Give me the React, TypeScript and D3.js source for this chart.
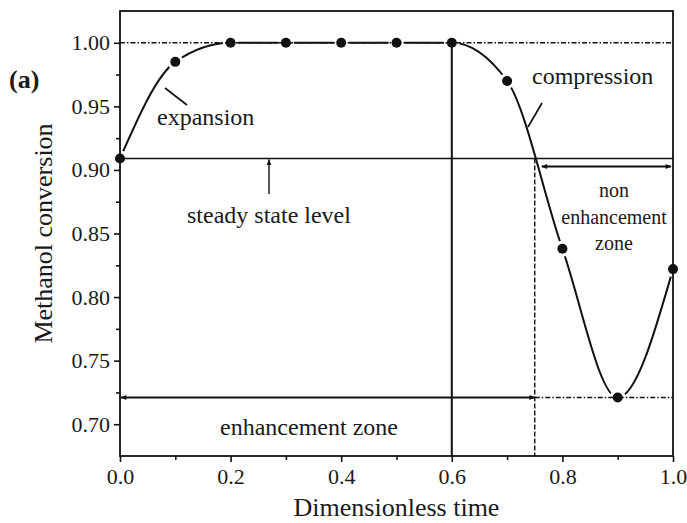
import * as React from 'react';
import {useEffect, useRef} from 'react';
import * as d3 from 'd3';

// dimensionless time of the samples and the methanol conversion read at each one
const timePoints = [0.0, 0.1, 0.2, 0.3, 0.4, 0.5, 0.6, 0.7, 0.8, 0.9, 1.0];
const conversion = [0.909, 0.985, 1.0, 1.0, 1.0, 1.0, 1.0, 0.97, 0.838, 0.721, 0.822];

const xTicks = [0.0, 0.2, 0.4, 0.6, 0.8, 1.0];
const xMinorTicks = [0.1, 0.3, 0.5, 0.7, 0.9];
const yTicks = [0.70, 0.75, 0.80, 0.85, 0.90, 0.95, 1.00];
const yMinorTicks = [0.725, 0.775, 0.825, 0.875, 0.925, 0.975];

const fullLevel = 1.0;
const steadyLevel = 0.909;
const minLevel = 0.721;
const switchTime = 0.6;
const crossTime = 0.75;

const W = 687;
const H = 523;
const FONT = '"Liberation Serif", "Times New Roman", serif';

export default function App() {
    const ref = useRef<SVGSVGElement>(null);

    useEffect(() => {
        const margin = {top: 11, right: 14, bottom: 67, left: 120};
        const x = d3.scaleLinear().domain([0, 1]).range([margin.left, W - margin.right]);
        const y = d3.scaleLinear().domain([0.675, 1.025]).range([H - margin.bottom, margin.top]);

        const svg = d3.select(ref.current);
        svg.selectAll('*').remove();

        const defs = svg.append('defs');
        const head = (id: string, orient: string) => defs.append('marker')
            .attr('id', id)
            .attr('viewBox', '0 0 10 10')
            .attr('refX', 9).attr('refY', 5)
            .attr('markerWidth', 7).attr('markerHeight', 6)
            .attr('markerUnits', 'userSpaceOnUse')
            .attr('orient', orient)
            .append('path')
            .attr('d', 'M0,1 L10,5 L0,9 Z')
            .attr('fill', '#111');
        head('arr', 'auto');
        head('arrStart', 'auto-start-reverse');

        // the curve
        const line = d3.line<number>()
            .x((d, i) => x(timePoints[i]))
            .y(d => y(d))
            .curve(d3.curveMonotoneX);

        svg.append('path')
            .attr('d', line(conversion))
            .attr('fill', 'none')
            .attr('stroke', '#111')
            .attr('stroke-width', 2);

        // gaps round the symbols
        svg.selectAll('.halo')
            .data(conversion)
            .enter()
            .append('circle')
            .attr('cx', (d, i) => x(timePoints[i]))
            .attr('cy', d => y(d))
            .attr('r', 8)
            .attr('fill', '#fff');

        const dashDot = '5 2 1.5 2';

        // 1.00 level
        svg.append('line')
            .attr('x1', x(0)).attr('x2', x(1))
            .attr('y1', y(fullLevel)).attr('y2', y(fullLevel))
            .attr('stroke', '#111').attr('stroke-width', 1.6)
            .attr('stroke-dasharray', dashDot);

        // steady state level
        svg.append('line')
            .attr('x1', x(0)).attr('x2', x(1))
            .attr('y1', y(steadyLevel)).attr('y2', y(steadyLevel))
            .attr('stroke', '#111').attr('stroke-width', 1.7);

        // minimum level, dash-dot part
        svg.append('line')
            .attr('x1', x(crossTime)).attr('x2', x(1))
            .attr('y1', y(minLevel)).attr('y2', y(minLevel))
            .attr('stroke', '#111').attr('stroke-width', 1.6)
            .attr('stroke-dasharray', dashDot);

        // enhancement zone arrow
        svg.append('line')
            .attr('x1', x(0) + 1).attr('x2', x(crossTime))
            .attr('y1', y(minLevel)).attr('y2', y(minLevel))
            .attr('stroke', '#111').attr('stroke-width', 2)
            .attr('marker-start', 'url(#arrStart)')
            .attr('marker-end', 'url(#arr)');

        // switch time
        svg.append('line')
            .attr('x1', x(switchTime)).attr('x2', x(switchTime))
            .attr('y1', y(fullLevel)).attr('y2', y(0.675))
            .attr('stroke', '#111').attr('stroke-width', 2);

        // crossing time
        svg.append('line')
            .attr('x1', x(crossTime)).attr('x2', x(crossTime))
            .attr('y1', y(steadyLevel)).attr('y2', y(0.675))
            .attr('stroke', '#111').attr('stroke-width', 1.4)
            .attr('stroke-dasharray', '5 2');

        // non enhancement zone arrow
        svg.append('line')
            .attr('x1', x(crossTime) + 7).attr('x2', x(1) - 2)
            .attr('y1', y(steadyLevel) + 8).attr('y2', y(steadyLevel) + 8)
            .attr('stroke', '#111').attr('stroke-width', 2)
            .attr('marker-start', 'url(#arrStart)')
            .attr('marker-end', 'url(#arr)');

        // steady state pointer
        svg.append('line')
            .attr('x1', 269).attr('x2', 269)
            .attr('y1', 194).attr('y2', y(steadyLevel) + 1)
            .attr('stroke', '#111').attr('stroke-width', 1.4)
            .attr('marker-end', 'url(#arr)');

        // expansion / compression pointers
        svg.append('line')
            .attr('x1', 165).attr('y1', 88).attr('x2', 187).attr('y2', 105)
            .attr('stroke', '#111').attr('stroke-width', 1.7);
        svg.append('line')
            .attr('x1', 542).attr('y1', 103).attr('x2', 528).attr('y2', 127)
            .attr('stroke', '#111').attr('stroke-width', 1.7);

        // frame
        svg.append('rect')
            .attr('x', x(0)).attr('y', y(1.025))
            .attr('width', x(1) - x(0)).attr('height', y(0.675) - y(1.025))
            .attr('fill', 'none').attr('stroke', '#111').attr('stroke-width', 1.8);

        const xAxis = d3.axisBottom(x).tickValues(xTicks).tickFormat(d3.format('.1f'))
            .tickSize(6).tickPadding(6);
        const xMinor = d3.axisBottom(x).tickValues(xMinorTicks).tickFormat(() => '').tickSize(4);
        const yAxis = d3.axisLeft(y).tickValues(yTicks).tickFormat(d3.format('.2f'))
            .tickSize(6).tickPadding(4);
        const yMinor = d3.axisLeft(y).tickValues(yMinorTicks).tickFormat(() => '').tickSize(4);

        const gx = svg.append('g').attr('transform', `translate(0, ${y(0.675)})`).call(xAxis);
        svg.append('g').attr('transform', `translate(0, ${y(0.675)})`).call(xMinor);
        const gy = svg.append('g').attr('transform', `translate(${x(0)}, 0)`).call(yAxis);
        svg.append('g').attr('transform', `translate(${x(0)}, 0)`).call(yMinor);

        svg.selectAll('.domain').remove();
        svg.selectAll('.tick line').attr('stroke', '#111').attr('stroke-width', 1.6);
        gx.selectAll('text').attr('font-family', FONT).attr('font-size', 22).attr('fill', '#1a1a1a');
        gy.selectAll('text').attr('font-family', FONT).attr('font-size', 22).attr('fill', '#1a1a1a');

        // symbols
        svg.selectAll('.dot')
            .data(conversion)
            .enter()
            .append('circle')
            .attr('cx', (d, i) => x(timePoints[i]))
            .attr('cy', d => y(d))
            .attr('r', 5)
            .attr('fill', '#111');

        const label = (tx: number, ty: number, s: string, size: number, anchor = 'start', weight = 'normal') =>
            svg.append('text')
                .attr('x', tx).attr('y', ty)
                .attr('font-family', FONT)
                .attr('font-size', size)
                .attr('font-weight', weight)
                .attr('text-anchor', anchor)
                .attr('fill', '#1a1a1a')
                .text(s);

        label(9, 88, '(a)', 26, 'start', 'bold');
        label(157, 125, 'expansion', 24);
        label(532, 84, 'compression', 24);
        label(187, 223, 'steady state level', 24);
        label(614, 197, 'non', 20, 'middle');
        label(614, 224, 'enhancement', 20, 'middle');
        label(614, 250, 'zone', 20, 'middle');
        label(309, 435, 'enhancement zone', 24, 'middle');
        label((x(0) + x(1)) / 2, 516, 'Dimensionless time', 26, 'middle');

        svg.append('text')
            .attr('transform', `translate(52, ${(y(0.675) + y(1.025)) / 2}) rotate(-90)`)
            .attr('font-family', FONT)
            .attr('font-size', 26)
            .attr('text-anchor', 'middle')
            .attr('fill', '#1a1a1a')
            .text('Methanol conversion');
    }, []);

    return (
        <svg ref={ref} width={W} height={H}
             style={{position: 'absolute', left: 0, top: 0, background: '#fff'}}/>
    );
}
